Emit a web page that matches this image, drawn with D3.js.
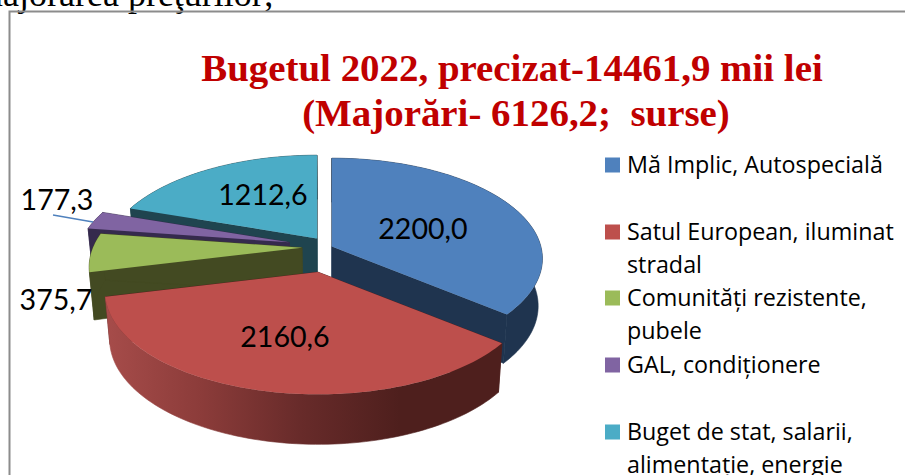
<!DOCTYPE html>
<html>
<head>
<meta charset="utf-8">
<script src="https://cdnjs.cloudflare.com/ajax/libs/d3/7.8.5/d3.min.js"></script>
<style>
html, body { margin: 0; padding: 0; background: #fff; overflow: hidden; }
svg { display: block; }
</style>
</head>
<body>
<div id="chart"></div>
<script>
const width = 905, height = 475;

// Chart data
const categories = ["Mă Implic, Autospecială", "Satul European, iluminat stradal", "Comunități rezistente, pubele", "GAL, condiționere", "Buget de stat, salarii, alimentație, energie"];
const values = [2200.0, 2160.6, 375.7, 177.3, 1212.6];
const valueLabels = ["2200,0", "2160,6", "375,7", "177,3", "1212,6"];
const titleLines = ["Bugetul 2022, precizat-14461,9 mii lei", "(Majorări- 6126,2;  surse)"];
const legendLines = [["Mă Implic, Autospecială"], ["Satul European, iluminat", "stradal"], ["Comunități rezistente,", "pubele"], ["GAL, condiționere"], ["Buget de stat, salarii,", "alimentație, energie"]];

// Excel style 3D colours
const topColors = ["#4f81bd", "#bd4f4c", "#9bbb59", "#8064a2", "#4bacc6"];
const wallColors = ["#1f344f", "url(#redWall)", "#434a22", "#352a4d", "#1f444f"];
const explode = [0.01, 0.26, 0.134, 0.2, 0.107];
const perspective = [0.12, 0.19, 0.19, 0.19, 0.19];

const svg = d3.select("#chart")
    .append("svg")
    .attr("width", width)
    .attr("height", height);

const grad = svg.append("defs").append("linearGradient")
    .attr("id", "redWall")
    .attr("gradientUnits", "userSpaceOnUse")
    .attr("x1", 100).attr("x2", 500).attr("y1", 0).attr("y2", 0);
[[0, "#a84d4b"], [0.25, "#8c3c3a"], [0.5, "#682b2a"], [0.75, "#4e1f1d"], [1, "#4e1f1d"]].forEach(s => {
    grad.append("stop").attr("offset", s[0]).attr("stop-color", s[1]);
});

// Scrap of body text above the chart frame
svg.append("text")
    .attr("x", -25).attr("y", 6)
    .attr("font-family", "Liberation Serif")
    .attr("font-size", 36)
    .attr("fill", "#000")
    .text("majorarea preţurilor;");

// Frame, open on the right and at the bottom
svg.append("path")
    .attr("d", d3.line()([[9.5, height], [9.5, 11.5], [width, 11.5]]))
    .attr("fill", "none")
    .attr("stroke", "#8c8c8c")
    .attr("stroke-width", 2);

// Title
const titleX = [512, 516];
svg.selectAll(".title")
    .data(titleLines)
    .enter()
    .append("text")
    .attr("class", "title")
    .attr("x", (d, i) => titleX[i])
    .attr("y", (d, i) => 81 + i * 44.5)
    .attr("text-anchor", "middle")
    .attr("font-family", "Liberation Serif")
    .attr("font-weight", "bold")
    .attr("font-size", 38.9)
    .attr("fill", "#c00000")
    .style("white-space", "pre")
    .text(d => d);

// Pie angles, clockwise from 12 o'clock
const pie = d3.pie().sort(null).value(d => d);
const slices = pie(values);

const cx = 330, cy = 247;
const xScale = d3.scaleLinear().domain([-1, 1]).range([-209, 209]);
const yScale = d3.scaleLinear().domain([-1, 1]).range([-99, 99]);

function project(a, r, s) {
    const u = Math.sin(a) * r, v = -Math.cos(a) * r;
    const mid = (s.startAngle + s.endAngle) / 2;
    const e = explode[s.index];
    const k = 1 - perspective[s.index] * v;
    return [
        cx + xScale(u / k) + xScale(Math.sin(mid) * e),
        cy + yScale(v / k) + yScale(-Math.cos(mid) * e)
    ];
}

// Lower edge of the disc, pulled slightly towards the centre
function drop(p, a) {
    const v = -Math.cos(a);
    return [cx + (p[0] - cx) * 0.98, p[1] + 47 + 3 * v];
}

const line = d3.line();

function rim(s) {
    const n = Math.max(8, Math.ceil((s.endAngle - s.startAngle) * 40));
    return d3.range(n + 1).map(i => s.startAngle + (s.endAngle - s.startAngle) * i / n);
}

// Back to front
const order = [4, 3, 2, 0, 1];
const groups = svg.selectAll(".slice")
    .data(order.map(i => slices[i]))
    .enter()
    .append("g")
    .attr("class", "slice");

groups.each(function(s) {
    const g = d3.select(this);
    const angles = rim(s);
    const wall = wallColors[s.index];
    const apex = project(0, 0, s);
    const apexLow = drop(apex, 0);

    // Two radial faces
    [s.startAngle, s.endAngle].forEach(a => {
        const p = project(a, 1, s);
        const fill = s.index === 1 ? "#4e1f1d" : wall;
        g.append("path")
            .attr("d", line([apex, p, drop(p, a), apexLow]) + "Z")
            .attr("fill", fill)
            .attr("stroke", fill)
            .attr("stroke-width", 0.6);
    });

    // Outer wall
    const upper = angles.map(a => project(a, 1, s));
    const lower = angles.map(a => drop(project(a, 1, s), a)).reverse();
    g.append("path")
        .attr("d", line(upper.concat(lower)) + "Z")
        .attr("fill", wall)
        .attr("stroke", wall)
        .attr("stroke-width", 0.6);

    // Top face
    g.append("path")
        .attr("d", line([apex].concat(upper)) + "Z")
        .attr("fill", topColors[s.index]);
});

// Value labels
const labelPos = [[423, 229], [285, 337], [56, 300], [57, 200], [263, 195]];
svg.selectAll(".value")
    .data(slices)
    .enter()
    .append("text")
    .attr("class", "value")
    .attr("x", d => labelPos[d.index][0])
    .attr("y", d => labelPos[d.index][1])
    .attr("dy", "0.35em")
    .attr("text-anchor", "middle")
    .attr("font-family", "Lato")
    .attr("font-size", 28.6)
    .attr("fill", "#000")
    .text(d => valueLabels[d.index]);

// Leader line for the purple slice
svg.append("path")
    .attr("d", line([[53, 215], [93, 222]]))
    .attr("fill", "none")
    .attr("stroke", "#4f81bd")
    .attr("stroke-width", 1.5);

// Legend
const legendY = [165, 232, 298, 365, 432];
const legend = svg.selectAll(".legend")
    .data(legendLines)
    .enter()
    .append("g")
    .attr("class", "legend")
    .attr("transform", (d, i) => `translate(605,${legendY[i]})`);

legend.append("rect")
    .attr("x", 0).attr("y", -7.5)
    .attr("width", 15).attr("height", 15)
    .attr("fill", (d, i) => topColors[i]);

legend.selectAll("text")
    .data(d => d)
    .enter()
    .append("text")
    .attr("x", 22)
    .attr("y", (d, i) => 8 + i * 33.4)
    .attr("font-family", "Open Sans")
    .attr("font-size", 23.3)
    .attr("fill", "#000")
    .text(d => d);
</script>
</body>
</html>
